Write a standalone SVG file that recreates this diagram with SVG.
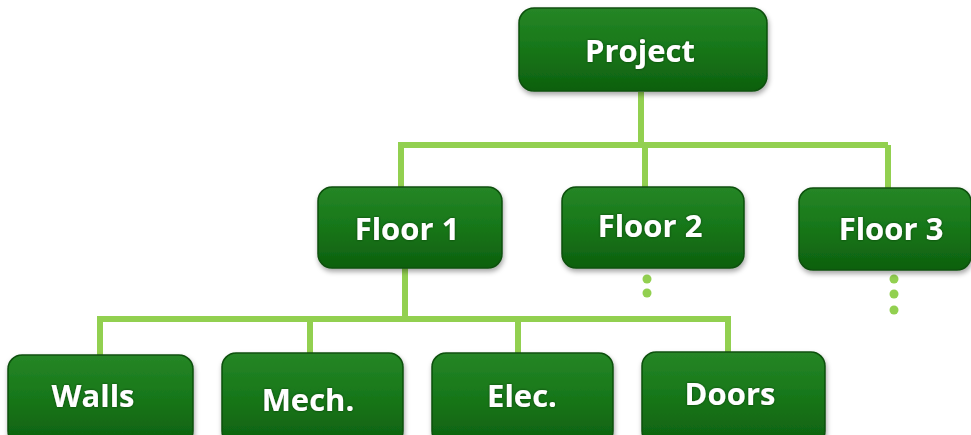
<svg xmlns="http://www.w3.org/2000/svg" width="971" height="435" viewBox="0 0 971 435">
  <defs>
    <linearGradient id="boxFill" x1="0" y1="0" x2="0" y2="1">
      <stop offset="0" stop-color="#268626"/>
      <stop offset="0.45" stop-color="#18781a"/>
      <stop offset="1" stop-color="#0e600e"/>
    </linearGradient>
    <filter id="shadow" x="-10%" y="-10%" width="120%" height="130%">
      <feDropShadow dx="1" dy="3" stdDeviation="2.5" flood-color="#000" flood-opacity="0.35"/>
    </filter>
    <filter id="textShadow" x="-10%" y="-20%" width="120%" height="140%">
      <feDropShadow dx="0" dy="0" stdDeviation="1.2" flood-color="#003300" flood-opacity="0.8"/>
    </filter>
  </defs>
  <style>
    .box { fill: url(#boxFill); stroke: #0c500c; stroke-width: 1.5; filter: url(#shadow); }
    .label { font-family: "Open Sans", "Liberation Sans", sans-serif; font-weight: bold; font-size: 31px; fill: #ffffff; text-anchor: middle; filter: url(#textShadow); }
    .link { fill: none; stroke: #92d050; stroke-width: 6; }
    .dot { fill: #92d050; }
  </style>
  <rect width="971" height="435" fill="#ffffff"/>

  <!-- connectors -->
  <g id="connectors">
    <path class="link" d="M641 92 V145 M398 145 H888 M401 145 V188 M645 145 V188 M888 145 V190"/>
    <path class="link" d="M405 268 V319 M97 319 H731 M100 319 V356 M310 319 V354 M518 319 V354 M728 319 V353"/>
    <circle class="dot" cx="647" cy="279" r="4.5"/>
    <circle class="dot" cx="647" cy="293" r="4.5"/>
    <circle class="dot" cx="894" cy="279" r="4.5"/>
    <circle class="dot" cx="894" cy="294" r="4.5"/>
    <circle class="dot" cx="894" cy="310" r="4.5"/>
  </g>

  <!-- nodes -->
  <g id="project">
    <rect class="box" x="519" y="8" width="248" height="83" rx="15"/>
    <text class="label" x="640" y="62">Project</text>
  </g>
  <g id="floor1">
    <rect class="box" x="318" y="187" width="184" height="81" rx="14"/>
    <text class="label" x="407" y="240">Floor 1</text>
  </g>
  <g id="floor2">
    <rect class="box" x="562" y="187" width="182" height="81" rx="14"/>
    <text class="label" x="650" y="237">Floor 2</text>
  </g>
  <g id="floor3">
    <rect class="box" x="799" y="188" width="172" height="82" rx="14"/>
    <text class="label" x="891" y="240">Floor 3</text>
  </g>
  <g id="walls">
    <rect class="box" x="8" y="355" width="185" height="90" rx="14"/>
    <text class="label" x="93" y="407">Walls</text>
  </g>
  <g id="mech">
    <rect class="box" x="222" y="353" width="181" height="92" rx="14"/>
    <text class="label" x="308" y="411">Mech.</text>
  </g>
  <g id="elec">
    <rect class="box" x="432" y="353" width="181" height="92" rx="14"/>
    <text class="label" x="522" y="407">Elec.</text>
  </g>
  <g id="doors">
    <rect class="box" x="642" y="352" width="183" height="93" rx="14"/>
    <text class="label" x="730" y="405">Doors</text>
  </g>
</svg>
